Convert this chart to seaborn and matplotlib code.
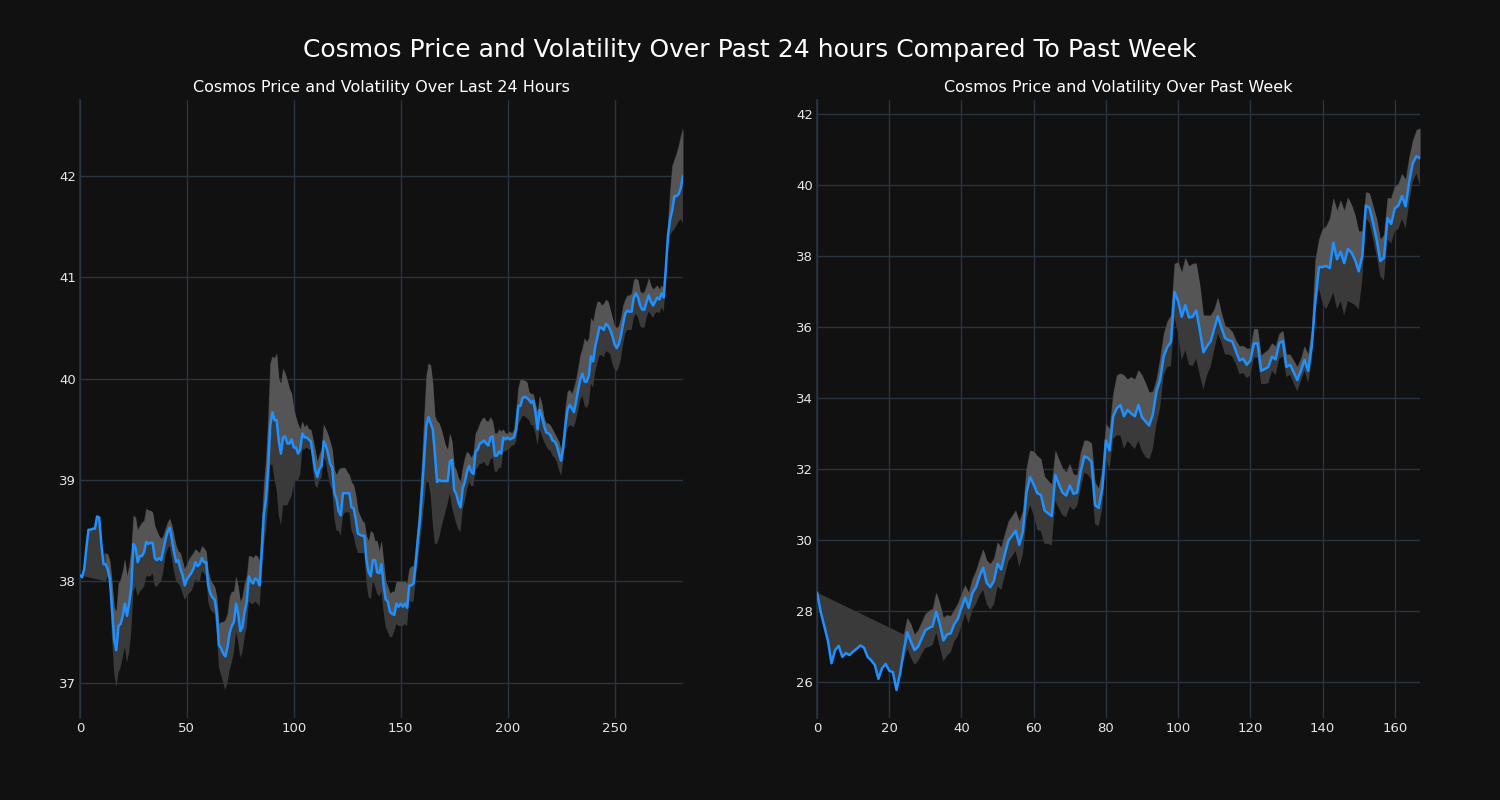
import numpy as np
import pandas as pd
import matplotlib
matplotlib.use("Agg")
import matplotlib.pyplot as plt
import seaborn as sns

# last 24 hours (5 min steps), price and volatility band edges
day_price = [
    38.06, 38.04, 38.12, 38.33, 38.51, 38.51, 38.52, 38.52, 38.64, 38.63,
    38.37, 38.17, 38.17, 38.12, 38.02, 37.72, 37.43, 37.32, 37.56, 37.58,
    37.66, 37.78, 37.66, 37.78, 37.94, 38.37, 38.33, 38.19, 38.25, 38.25,
    38.29, 38.39, 38.37, 38.38, 38.38, 38.23, 38.21, 38.23, 38.21, 38.31,
    38.41, 38.49, 38.53, 38.41, 38.29, 38.19, 38.21, 38.12, 38.06, 37.96,
    38.02, 38.05, 38.08, 38.12, 38.19, 38.15, 38.17, 38.23, 38.19, 38.19,
    37.96, 37.88, 37.84, 37.82, 37.68, 37.37, 37.34, 37.29, 37.26, 37.35,
    37.49, 37.56, 37.60, 37.78, 37.68, 37.51, 37.55, 37.70, 37.80, 38.05,
    38.00, 37.98, 38.03, 38.01, 37.96, 38.29, 38.66, 38.81, 39.10, 39.54,
    39.67, 39.59, 39.59, 39.38, 39.26, 39.42, 39.43, 39.36, 39.36, 39.40,
    39.32, 39.32, 39.26, 39.30, 39.46, 39.42, 39.42, 39.40, 39.38, 39.24,
    39.10, 39.03, 39.11, 39.14, 39.38, 39.34, 39.26, 39.16, 39.12, 38.87,
    38.81, 38.69, 38.65, 38.87, 38.87, 38.87, 38.87, 38.73, 38.72, 38.61,
    38.47, 38.46, 38.45, 38.45, 38.21, 38.09, 38.05, 38.21, 38.21, 38.09,
    38.08, 38.17, 37.96, 37.82, 37.80, 37.70, 37.68, 37.67, 37.78, 37.75,
    37.78, 37.75, 37.78, 37.74, 37.96, 37.96, 37.98, 38.17, 38.41, 38.61,
    38.90, 39.22, 39.54, 39.62, 39.56, 39.50, 39.26, 38.98, 39.00, 38.99,
    38.99, 38.99, 38.99, 39.18, 39.20, 38.90, 38.86, 38.78, 38.73, 38.92,
    38.98, 39.08, 39.14, 39.08, 39.06, 39.28, 39.30, 39.36, 39.37, 39.39,
    39.36, 39.34, 39.42, 39.43, 39.24, 39.24, 39.28, 39.26, 39.42, 39.40,
    39.42, 39.40, 39.41, 39.42, 39.50, 39.73, 39.73, 39.81, 39.82, 39.81,
    39.79, 39.76, 39.78, 39.67, 39.50, 39.69, 39.63, 39.54, 39.47, 39.46,
    39.44, 39.39, 39.38, 39.34, 39.26, 39.19, 39.32, 39.53, 39.69, 39.74,
    39.71, 39.67, 39.77, 39.89, 39.99, 40.05, 39.97, 39.97, 40.03, 40.22,
    40.17, 40.32, 40.41, 40.51, 40.50, 40.48, 40.54, 40.52, 40.48, 40.42,
    40.34, 40.30, 40.34, 40.42, 40.54, 40.64, 40.67, 40.66, 40.66, 40.80,
    40.84, 40.80, 40.72, 40.68, 40.68, 40.76, 40.82, 40.76, 40.72, 40.76,
    40.80, 40.78, 40.84, 40.80, 41.09, 41.41, 41.57, 41.66, 41.80, 41.80,
    41.82, 41.88, 42.00,
]
day_band_start = 12
day_upper = [
    38.28, 38.27, 38.20, 38.00, 37.75, 37.70, 37.98, 38.02,
    38.10, 38.22, 38.05, 38.15, 38.30, 38.65, 38.63, 38.50, 38.55, 38.58,
    38.60, 38.72, 38.70, 38.70, 38.68, 38.55, 38.50, 38.45, 38.42, 38.45,
    38.52, 38.58, 38.62, 38.55, 38.45, 38.35, 38.30, 38.28, 38.20, 38.12,
    38.17, 38.22, 38.25, 38.28, 38.32, 38.30, 38.28, 38.35, 38.33, 38.30,
    38.10, 38.02, 37.98, 37.95, 37.85, 37.58, 37.60, 37.60, 37.62, 37.68,
    37.85, 37.90, 37.90, 38.05, 37.95, 37.80, 37.85, 37.98, 38.05, 38.25,
    38.25, 38.23, 38.26, 38.25, 38.20, 38.55, 38.95, 39.20, 39.60, 40.15,
    40.22, 40.20, 40.25, 40.00, 39.95, 40.10, 40.05, 39.98, 39.90, 39.85,
    39.70, 39.62, 39.55, 39.50, 39.58, 39.52, 39.55, 39.50, 39.50, 39.40,
    39.30, 39.18, 39.25, 39.30, 39.55, 39.50, 39.45, 39.38, 39.30, 39.10,
    39.05, 39.10, 39.12, 39.12, 39.12, 39.08, 39.05, 38.98, 38.95, 38.85,
    38.70, 38.65, 38.60, 38.58, 38.45, 38.40, 38.50, 38.48, 38.40, 38.40,
    38.30, 38.40, 38.20, 38.00, 37.95, 37.88, 37.90, 37.90, 38.00, 38.00,
    38.00, 38.00, 38.00, 37.98, 38.12, 38.15, 38.15, 38.33, 38.57, 38.85,
    39.20, 39.63, 40.03, 40.15, 40.13, 39.95, 39.63, 39.58, 39.56, 39.50,
    39.42, 39.34, 39.30, 39.46, 39.38, 39.14, 39.10, 39.02, 38.98, 39.12,
    39.22, 39.28, 39.26, 39.22, 39.26, 39.46, 39.50, 39.56, 39.60, 39.62,
    39.58, 39.58, 39.62, 39.58, 39.46, 39.46, 39.50, 39.48, 39.50, 39.46,
    39.46, 39.48, 39.46, 39.50, 39.67, 39.91, 39.99, 39.99, 39.98, 39.97,
    39.87, 39.85, 39.85, 39.75, 39.67, 39.83, 39.75, 39.62, 39.56, 39.56,
    39.54, 39.50, 39.46, 39.42, 39.38, 39.30, 39.46, 39.71, 39.87, 39.89,
    39.85, 39.91, 39.99, 40.11, 40.23, 40.30, 40.40, 40.36, 40.40, 40.60,
    40.56, 40.68, 40.76, 40.76, 40.72, 40.74, 40.78, 40.76, 40.68, 40.60,
    40.52, 40.50, 40.52, 40.60, 40.72, 40.78, 40.82, 40.82, 40.84, 40.97,
    40.99, 40.97, 40.86, 40.84, 40.86, 40.92, 40.99, 40.92, 40.88, 40.90,
    40.92, 40.88, 40.92, 40.88, 41.17, 41.53, 41.86, 42.10, 42.16, 42.22,
    42.30, 42.39, 42.47,
]
day_lower = [
    38.00, 38.05, 37.90, 37.45, 37.10, 36.95, 37.10, 37.15,
    37.25, 37.35, 37.20, 37.30, 37.50, 37.90, 37.95, 37.85, 37.90, 37.92,
    37.95, 38.05, 38.05, 38.05, 38.08, 37.95, 37.95, 37.98, 38.00, 38.10,
    38.25, 38.32, 38.35, 38.22, 38.10, 38.00, 37.98, 37.95, 37.88, 37.82,
    37.85, 37.88, 37.90, 37.95, 38.02, 38.00, 38.00, 38.10, 38.08, 38.05,
    37.80, 37.72, 37.70, 37.68, 37.50, 37.15, 37.08, 37.00, 36.93, 37.00,
    37.12, 37.20, 37.30, 37.50, 37.40, 37.25, 37.30, 37.45, 37.55, 37.80,
    37.78, 37.78, 37.80, 37.78, 37.75, 38.05, 38.35, 38.50, 38.75, 39.15,
    39.15, 39.00, 38.90, 38.65, 38.55, 38.75, 38.75, 38.75, 38.80, 38.85,
    38.95, 39.00, 39.00, 39.05, 39.30, 39.30, 39.32, 39.30, 39.30, 39.10,
    38.95, 38.92, 39.00, 39.02, 39.22, 39.18, 39.05, 38.95, 38.90, 38.62,
    38.50, 38.50, 38.45, 38.65, 38.68, 38.68, 38.68, 38.50, 38.45, 38.35,
    38.28, 38.28, 38.28, 38.28, 37.98, 37.85, 37.82, 38.00, 37.95, 37.88,
    37.85, 37.90, 37.70, 37.55, 37.50, 37.45, 37.45, 37.51, 37.58, 37.56,
    37.56, 37.56, 37.58, 37.56, 37.80, 37.80, 37.80, 38.00, 38.20, 38.37,
    38.57, 38.77, 38.98, 38.98, 38.85, 38.57, 38.37, 38.37, 38.43, 38.53,
    38.61, 38.69, 38.77, 38.87, 38.73, 38.65, 38.57, 38.51, 38.49, 38.71,
    38.79, 38.90, 38.98, 38.94, 38.94, 39.10, 39.12, 39.16, 39.16, 39.18,
    39.14, 39.14, 39.20, 39.22, 39.08, 39.08, 39.12, 39.12, 39.28, 39.28,
    39.30, 39.31, 39.34, 39.34, 39.38, 39.54, 39.59, 39.63, 39.63, 39.61,
    39.59, 39.54, 39.54, 39.46, 39.34, 39.50, 39.44, 39.38, 39.34, 39.30,
    39.29, 39.24, 39.22, 39.18, 39.10, 39.04, 39.18, 39.38, 39.50, 39.54,
    39.53, 39.52, 39.59, 39.69, 39.79, 39.83, 39.73, 39.71, 39.75, 39.95,
    39.91, 40.07, 40.15, 40.23, 40.23, 40.21, 40.27, 40.26, 40.24, 40.15,
    40.09, 40.07, 40.11, 40.19, 40.34, 40.44, 40.48, 40.48, 40.48, 40.60,
    40.64, 40.60, 40.52, 40.50, 40.50, 40.60, 40.66, 40.63, 40.60, 40.64,
    40.66, 40.64, 40.70, 40.66, 40.92, 41.25, 41.41, 41.45, 41.47, 41.51,
    41.55, 41.57, 41.53,
]

# past week (hourly)
week_price = [
    28.53, 27.99, 27.58, 27.18, 26.54, 26.91, 27.03, 26.72, 26.83, 26.77,
    26.87, 26.95, 27.04, 26.98, 26.72, 26.62, 26.49, 26.10, 26.40, 26.52,
    26.33, 26.29, 25.79, 26.25, 26.89, 27.41, 27.14, 26.91, 27.01, 27.24,
    27.47, 27.53, 27.58, 27.99, 27.64, 27.18, 27.35, 27.38, 27.64, 27.79,
    28.10, 28.39, 28.10, 28.51, 28.68, 28.99, 29.23, 28.80, 28.68, 28.86,
    29.34, 29.18, 29.61, 29.99, 30.13, 30.27, 29.87, 30.24, 31.34, 31.78,
    31.57, 31.32, 31.28, 30.84, 30.76, 30.68, 31.84, 31.57, 31.34, 31.26,
    31.54, 31.31, 31.34, 31.92, 32.36, 32.32, 32.21, 30.99, 30.91, 31.46,
    32.81, 32.53, 33.48, 33.71, 33.81, 33.49, 33.67, 33.57, 33.49, 33.81,
    33.46, 33.34, 33.23, 33.55, 34.19, 34.51, 35.17, 35.44, 35.58, 36.99,
    36.73, 36.29, 36.62, 36.27, 36.29, 36.47, 35.92, 35.29, 35.46, 35.60,
    35.95, 36.31, 35.98, 35.69, 35.63, 35.60, 35.32, 35.06, 35.11, 34.94,
    35.06, 35.54, 35.54, 34.77, 34.82, 34.88, 35.17, 35.09, 35.55, 35.61,
    34.88, 34.94, 34.73, 34.51, 34.77, 35.08, 34.77, 35.46, 36.73, 37.69,
    37.69, 37.72, 37.66, 38.38, 37.91, 38.12, 37.80, 38.20, 38.10, 37.89,
    37.57, 38.01, 39.42, 39.36, 38.93, 38.45, 37.86, 37.95, 39.07, 38.90,
    39.34, 39.42, 39.69, 39.40, 40.09, 40.61, 40.81, 40.75,
]
week_band_start = 24
week_upper = [
    27.35, 27.82, 27.64, 27.35, 27.47, 27.70,
    27.93, 28.02, 28.07, 28.53, 28.22, 27.82, 27.90, 27.87, 28.05, 28.22,
    28.50, 28.74, 28.53, 28.91, 29.14, 29.46, 29.75, 29.43, 29.34, 29.49,
    29.95, 29.80, 30.18, 30.53, 30.68, 30.84, 30.53, 30.82, 32.03, 32.53,
    32.50, 32.38, 32.29, 31.80, 31.68, 31.57, 32.53, 32.27, 32.03, 31.92,
    32.15, 31.86, 31.84, 32.46, 32.81, 32.81, 32.73, 31.63, 31.46, 32.03,
    33.29, 33.13, 34.12, 34.64, 34.70, 34.65, 34.53, 34.60, 34.53, 34.79,
    34.65, 34.42, 34.16, 34.19, 34.53, 35.11, 35.81, 36.16, 36.33, 37.78,
    37.83, 37.54, 37.95, 37.72, 37.78, 37.80, 37.20, 36.33, 36.33, 36.33,
    36.50, 36.83, 36.39, 36.04, 35.98, 35.87, 35.63, 35.46, 35.48, 35.40,
    35.40, 35.95, 35.95, 35.20, 35.29, 35.37, 35.55, 35.46, 35.81, 35.90,
    35.23, 35.23, 35.06, 34.88, 35.11, 35.46, 35.23, 35.92, 37.89, 38.47,
    38.76, 38.84, 39.05, 39.63, 39.28, 39.57, 39.28, 39.65, 39.45, 39.16,
    38.70, 38.70, 39.80, 39.77, 39.40, 39.05, 38.47, 38.59, 39.63, 39.63,
    39.97, 40.03, 40.32, 40.15, 40.78, 41.25, 41.54, 41.60,
]
week_lower = [
    26.60, 26.95, 26.70, 26.50, 26.60, 26.80,
    26.97, 27.00, 27.05, 27.40, 27.00, 26.60, 26.75, 26.85, 27.15, 27.30,
    27.60, 27.95, 27.65, 28.05, 28.20, 28.45, 28.60, 28.20, 28.05, 28.20,
    28.70, 28.60, 29.00, 29.40, 29.55, 29.70, 29.25, 29.60, 30.60, 31.00,
    30.70, 30.30, 30.25, 29.90, 29.90, 29.85, 31.10, 30.90, 30.70, 30.65,
    30.95, 30.85, 30.95, 31.45, 31.90, 31.85, 31.70, 30.45, 30.40, 30.90,
    32.30, 32.00, 32.85, 32.95, 32.95, 32.57, 32.80, 32.68, 32.57, 32.80,
    32.51, 32.34, 32.28, 32.57, 33.26, 33.72, 34.65, 34.88, 34.90, 36.27,
    35.81, 35.06, 35.35, 34.94, 34.90, 35.11, 34.65, 34.25, 34.65, 34.88,
    35.35, 35.81, 35.58, 35.23, 35.23, 35.17, 34.97, 34.67, 34.71, 34.56,
    34.65, 35.14, 35.14, 34.40, 34.40, 34.42, 34.77, 34.65, 35.11, 35.17,
    34.60, 34.65, 34.42, 34.19, 34.48, 34.77, 34.44, 35.00, 36.50, 37.08,
    36.68, 36.50, 36.73, 36.97, 36.50, 36.73, 36.33, 36.73, 36.68, 36.62,
    36.50, 37.31, 39.05, 38.93, 38.47, 38.00, 37.43, 37.31, 38.47, 38.35,
    38.70, 38.76, 39.05, 38.76, 39.51, 40.09, 40.32, 39.97,
]

bg = "#111111"
grid_col = "#2a3340"
sns.set_theme(style="darkgrid", rc={
    "figure.facecolor": bg,
    "axes.facecolor": bg,
    "savefig.facecolor": bg,
    "grid.color": grid_col,
    "grid.linewidth": 1.0,
    "axes.edgecolor": grid_col,
    "text.color": "white",
    "xtick.color": "#e6e6e6",
    "ytick.color": "#e6e6e6",
})
plt.rcParams["font.family"] = ["DejaVu Sans"]

fig = plt.figure(figsize=(15, 8), dpi=100)
ax1 = fig.add_axes([0.0533, 0.1025, 0.402, 0.7725])
ax2 = fig.add_axes([0.5447, 0.1025, 0.402, 0.7725])


def draw(ax, price, upper, lower, start, title):
    price = np.array(price)
    upper = np.array(upper)
    lower = np.array(lower)
    n = len(price)
    x = np.arange(n)
    bx = np.arange(start, n)
    # band polygons: price line forward, band edge back
    for edge in (lower, upper):
        ax.fill(np.concatenate([x, bx[::-1]]), np.concatenate([price, edge[::-1]]),
                color="#3a3a3a", lw=0, zorder=1)
    ax.fill_between(bx, price[start:], upper, color="#555555", lw=0, zorder=1)

    df = pd.DataFrame({"step": x, "price": price})
    sns.lineplot(data=df, x="step", y="price", ax=ax, color="#1e90ff", lw=1.8, zorder=3)

    ax.set_xlim(0, n - 1)
    ax.set_xlabel("")
    ax.set_ylabel("")
    ax.set_title(title, fontsize=11.5, color="white", pad=6)
    ax.tick_params(length=0, labelsize=9.5, pad=3)
    for s in ("top", "right", "bottom"):
        ax.spines[s].set_visible(False)
    ax.spines["left"].set_color(grid_col)
    ax.spines["left"].set_linewidth(1.2)


draw(ax1, day_price, day_upper, day_lower, day_band_start,
     "Cosmos Price and Volatility Over Last 24 Hours")
draw(ax2, week_price, week_upper, week_lower, week_band_start,
     "Cosmos Price and Volatility Over Past Week")

fig.suptitle("Cosmos Price and Volatility Over Past 24 hours Compared To Past Week",
             fontsize=18, color="white", y=0.9375, va="center")

fig.savefig("out.png", dpi=100, facecolor=bg)
